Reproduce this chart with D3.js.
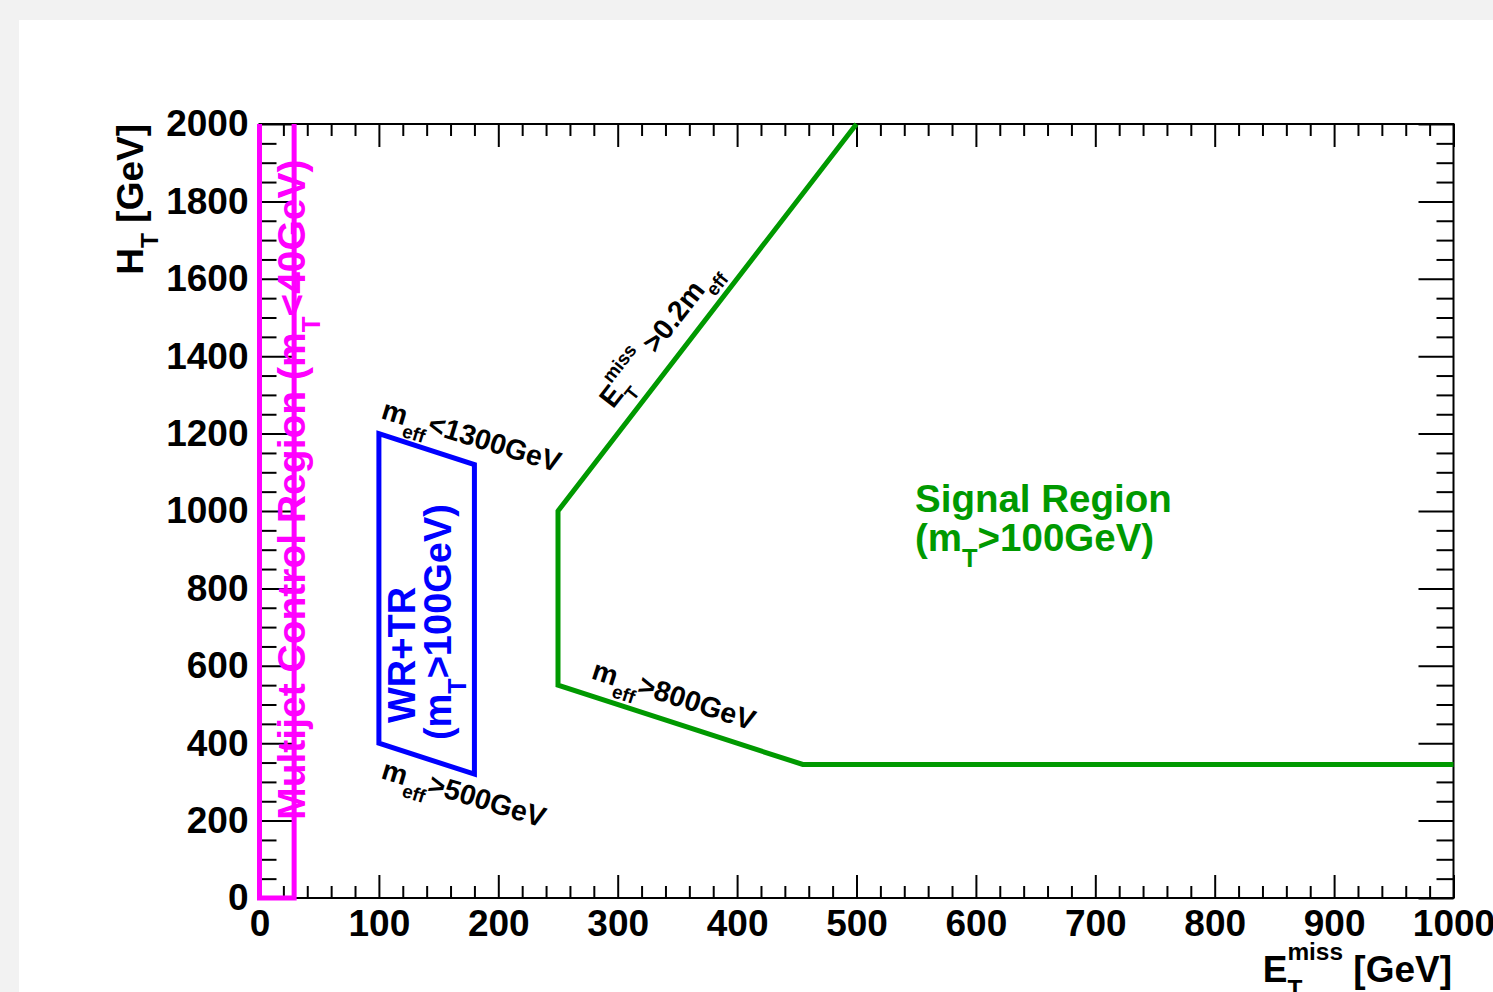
<!DOCTYPE html>
<html>
<head>
<meta charset="utf-8">
<script src="https://cdn.jsdelivr.net/npm/d3@7"></script>
<style>
  html, body { margin: 0; padding: 0; background: #f2f2f2; }
  svg { display: block; }
  text { font-family: "Liberation Sans", Arial, Helvetica, sans-serif; font-weight: bold; white-space: pre; }
</style>
</head>
<body>
<svg id="chart" width="1493" height="992"></svg>
<script>
// ---- data ----
const xTickValues = [0, 100, 200, 300, 400, 500, 600, 700, 800, 900, 1000];
const yTickValues = [0, 200, 400, 600, 800, 1000, 1200, 1400, 1600, 1800, 2000];
// Signal region boundary (green)
const signalET = [500, 250, 250, 455, 1000];
const signalHT = [2000, 1000, 550, 345, 345];
// WR+TR control region (blue, closed)
const wrtrET = [100, 180, 180, 100];
const wrtrHT = [1200, 1120, 320, 400];
// Multijet control region (magenta, open at top)
const multijetET = [0, 0, 29, 29];
const multijetHT = [2000, 0, 0, 2000];

const GREEN = "#009900", BLUE = "#0000ff", MAGENTA = "#ff00ff";

const svg = d3.select("#chart");
// white canvas
svg.append("rect").attr("x", 19).attr("y", 20).attr("width", 1493 - 19).attr("height", 992 - 20).attr("fill", "#fff");

const L = 259.5, R = 1453.5, T = 124, B = 898;
const x = d3.scaleLinear().domain([0, 1000]).range([L, R]);
const y = d3.scaleLinear().domain([0, 2000]).range([B, T]);

const FS = 37;
function styleAxis(g, labels) {
  g.select(".domain").remove();
  g.selectAll(".tick line").attr("stroke", "#000").attr("stroke-width", 2);
  if (labels) g.selectAll(".tick text").attr("font-size", FS).attr("fill", "#000");
  else g.selectAll(".tick text").remove();
}
const xMinor = d3.range(0, 1001, 20).filter(v => v % 100 !== 0);
const yMinor = d3.range(0, 2001, 50).filter(v => v % 200 !== 0);

// bottom
svg.append("g").attr("transform", `translate(0,${B})`)
  .call(d3.axisBottom(x).tickValues(xMinor).tickSize(-12).tickFormat(""))
  .call(g => styleAxis(g, false));
svg.append("g").attr("transform", `translate(0,${B})`)
  .call(d3.axisBottom(x).tickValues(xTickValues).tickSize(-23).tickPadding(12).tickFormat(d3.format("d")))
  .call(g => styleAxis(g, true));
// top
svg.append("g").attr("transform", `translate(0,${T})`)
  .call(d3.axisTop(x).tickValues(xMinor).tickSize(-12).tickFormat(""))
  .call(g => styleAxis(g, false));
svg.append("g").attr("transform", `translate(0,${T})`)
  .call(d3.axisTop(x).tickValues(xTickValues).tickSize(-23).tickFormat(""))
  .call(g => styleAxis(g, false));
// left
svg.append("g").attr("transform", `translate(${L},0)`)
  .call(d3.axisLeft(y).tickValues(yMinor).tickSize(-17).tickFormat(""))
  .call(g => styleAxis(g, false));
svg.append("g").attr("transform", `translate(${L},0)`)
  .call(d3.axisLeft(y).tickValues(yTickValues).tickSize(-35).tickPadding(11).tickFormat(d3.format("d")))
  .call(g => styleAxis(g, true));
// right
svg.append("g").attr("transform", `translate(${R},0)`)
  .call(d3.axisRight(y).tickValues(yMinor).tickSize(-17).tickFormat(""))
  .call(g => styleAxis(g, false));
svg.append("g").attr("transform", `translate(${R},0)`)
  .call(d3.axisRight(y).tickValues(yTickValues).tickSize(-35).tickFormat(""))
  .call(g => styleAxis(g, false));

// frame
svg.append("rect").attr("x", L).attr("y", T).attr("width", R - L).attr("height", B - T)
  .attr("fill", "none").attr("stroke", "#000").attr("stroke-width", 2);

// ---- region lines ----
const line = d3.line().x(d => x(d[0])).y(d => y(d[1]));
svg.append("path").datum(multijetET.map((v, i) => [v, multijetHT[i]]))
  .attr("d", line).attr("fill", "none").attr("stroke", MAGENTA).attr("stroke-width", 5);
svg.append("path").datum(wrtrET.map((v, i) => [v, wrtrHT[i]]))
  .attr("d", d => line(d) + "Z").attr("fill", "none").attr("stroke", BLUE).attr("stroke-width", 5);
svg.append("path").datum(signalET.map((v, i) => [v, signalHT[i]]))
  .attr("d", line).attr("fill", "none").attr("stroke", GREEN).attr("stroke-width", 5);

// ---- rich text helper ----
function rich(parts, fs, o) {
  const g = svg.append("g").attr("transform", `translate(${o.x},${o.y}) rotate(${o.angle || 0})`);
  const inner = g.append("g");
  let cx = 0, lastStart = 0;
  parts.forEach(p => {
    const size = p.s ? fs * 0.66 : fs;
    const dy = p.s === "sub" ? 0.4 * fs : p.s === "sup" ? -0.6 * fs : 0;
    const px = p.stack ? lastStart : cx;
    const t = inner.append("text").attr("x", px).attr("y", dy)
      .attr("font-size", size).attr("fill", o.color || "#000").text(p.t);
    const w = t.node().getComputedTextLength();
    if (p.stack) cx = Math.max(cx, px + w);
    else { lastStart = px; cx = px + w; }
  });
  if (o.anchor === "end") inner.attr("transform", `translate(${-cx},0)`);
  return g;
}

// axis titles
rich([{t: "H"}, {t: "T", s: "sub"}, {t: " [GeV]"}], FS, {x: 143, y: y(2000), angle: -90, anchor: "end"});
rich([{t: "E"}, {t: "T", s: "sub"}, {t: "miss", s: "sup", stack: true}, {t: " [GeV]"}], FS,
  {x: 1452, y: 982, anchor: "end"});

// region labels
rich([{t: "Multijet Control Region (m"}, {t: "T", s: "sub"}, {t: "<40GeV)"}], 39,
  {x: x(38), y: y(202), angle: -90, color: MAGENTA});
rich([{t: "WR+TR"}], 38, {x: x(130), y: y(452), angle: -90, color: BLUE});
rich([{t: "(m"}, {t: "T", s: "sub"}, {t: ">100GeV)"}], 38, {x: x(160), y: y(408), angle: -90, color: BLUE});
rich([{t: "Signal Region"}], 38.5, {x: x(549), y: y(997), color: GREEN});
rich([{t: "(m"}, {t: "T", s: "sub"}, {t: ">100GeV)"}], 38.5, {x: x(549), y: y(896), color: GREEN});

rich([{t: "m"}, {t: "eff", s: "sub"}, {t: "<1300GeV"}], 28.5, {x: x(101), y: y(1240), angle: 17});
rich([{t: "m"}, {t: "eff", s: "sub"}, {t: ">500GeV"}], 28.5, {x: x(101), y: y(310), angle: 17});
rich([{t: "m"}, {t: "eff", s: "sub"}, {t: ">800GeV"}], 28.5, {x: x(277), y: y(568), angle: 18});
rich([{t: "E"}, {t: "T", s: "sub"}, {t: "miss", s: "sup", stack: true}, {t: " >0.2m"}, {t: "eff", s: "sub"}], 28.5,
  {x: x(296), y: y(1262), angle: -52});
</script>
</body>
</html>
